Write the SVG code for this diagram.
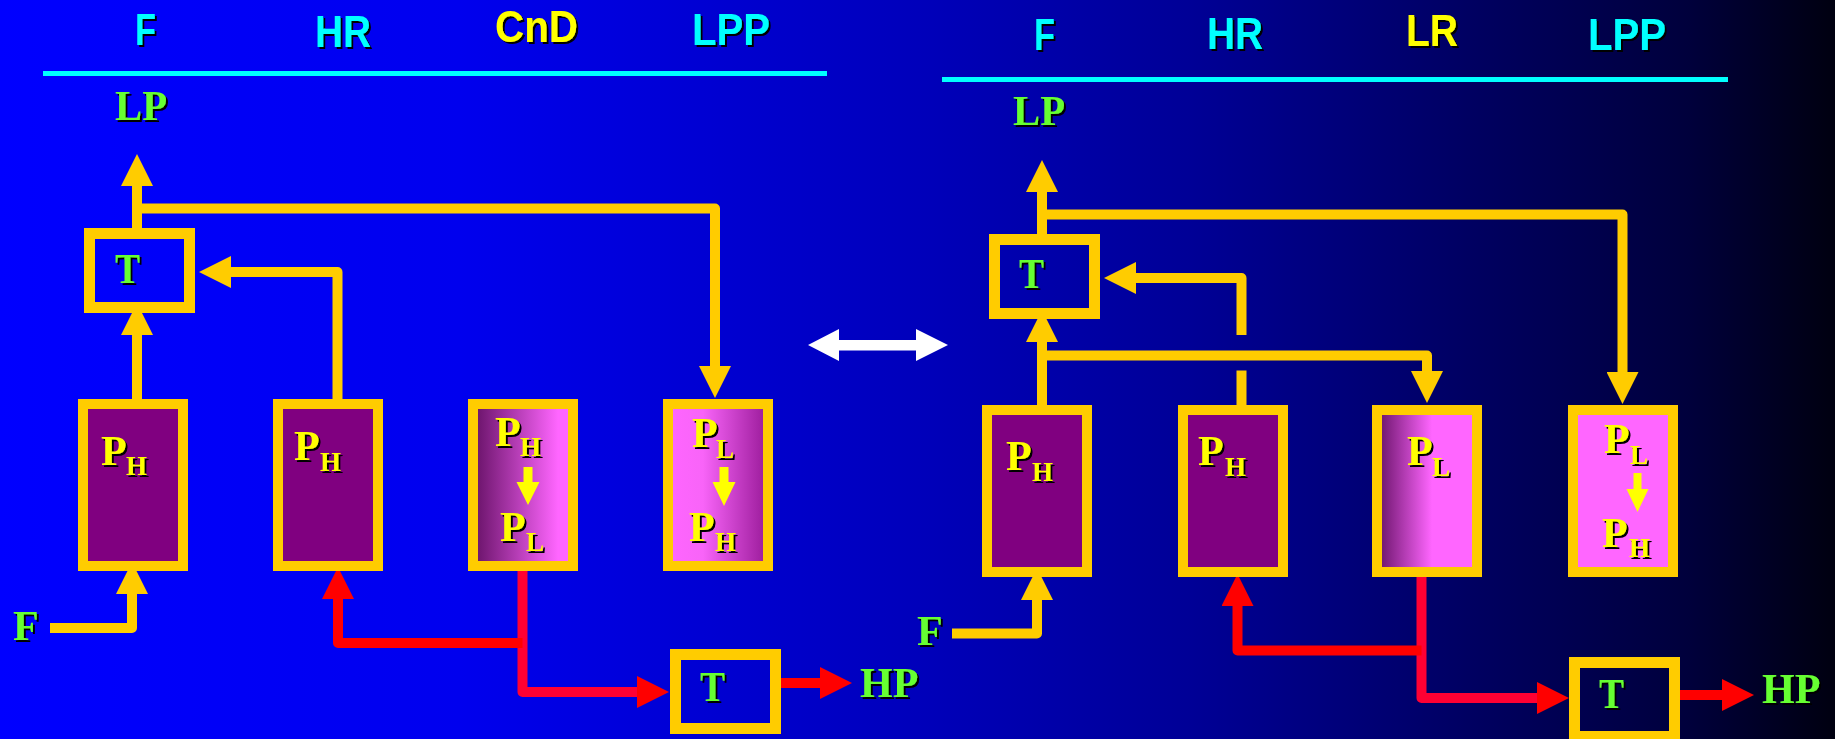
<svg xmlns="http://www.w3.org/2000/svg" width="1835" height="739" viewBox="0 0 1835 739">
<defs>
<linearGradient id="bg" x1="0" y1="0" x2="1" y2="0">
<stop offset="0" stop-color="#0000ff"/>
<stop offset="0.25" stop-color="#0000ee"/>
<stop offset="0.5" stop-color="#0000bb"/>
<stop offset="0.65" stop-color="#000096"/>
<stop offset="0.8" stop-color="#000062"/>
<stop offset="0.92" stop-color="#00003c"/>
<stop offset="1" stop-color="#000010"/>
</linearGradient>
<linearGradient id="gL3" x1="0" y1="0" x2="1" y2="0">
<stop offset="0" stop-color="#661166"/>
<stop offset="0.85" stop-color="#ff66ff"/>
</linearGradient>
<linearGradient id="gL4" x1="0" y1="0" x2="1" y2="0">
<stop offset="0" stop-color="#ff66ff"/>
<stop offset="0.35" stop-color="#f864f8"/>
<stop offset="1" stop-color="#991a99"/>
</linearGradient>
<linearGradient id="gR3" x1="0" y1="0" x2="1" y2="0">
<stop offset="0" stop-color="#661166"/>
<stop offset="0.55" stop-color="#ff66ff"/>
<stop offset="1" stop-color="#ff66ff"/>
</linearGradient>
<filter id="sh" x="-20%" y="-20%" width="150%" height="150%">
<feOffset in="SourceAlpha" dx="2" dy="2" result="o"/>
<feMerge><feMergeNode in="o"/><feMergeNode in="SourceGraphic"/></feMerge>
</filter>
<marker id="ay" markerUnits="userSpaceOnUse" viewBox="0 0 32 32" refX="0" refY="16" markerWidth="32" markerHeight="32" orient="auto">
<path d="M0,0 L32,16 L0,32 z" fill="#ffcc00"/>
</marker>
<marker id="ar" markerUnits="userSpaceOnUse" viewBox="0 0 32 32" refX="0" refY="16" markerWidth="32" markerHeight="32" orient="auto">
<path d="M0,0 L32,16 L0,32 z" fill="#ff0000"/>
</marker>
<style>
.hd{font-family:"Liberation Sans",Arial,sans-serif;font-weight:bold;font-size:44px;filter:url(#sh)}
.cy{fill:#00ffff}
.yl{fill:#ffff00}
.sr{font-family:"Liberation Serif","Times New Roman",serif;font-weight:bold;font-size:42px;filter:url(#sh)}
.gr{fill:#66ff33}
.sub{font-size:27px}
.yc{fill:none;stroke:#ffcc00;stroke-width:10;stroke-linejoin:round}
.rc{fill:none;stroke:#ff0000;stroke-width:10;stroke-linejoin:round}
.rc2{fill:none;stroke:#ff0033;stroke-width:10;stroke-linejoin:round}
.box{stroke:#ffcc00;stroke-width:10}
.tb{fill:none;stroke:#ffcc00;stroke-width:11}
.pu{fill:#800080}
.ia{fill:#ffff00}
.rule{stroke:#00ffff;stroke-width:5}
</style>
</defs>
<rect x="0" y="0" width="1835" height="739" fill="url(#bg)"/>

<g id="headers">
<text class="hd cy" x="135" y="45" textLength="21" lengthAdjust="spacingAndGlyphs">F</text>
<text class="hd cy" x="315" y="47" textLength="56" lengthAdjust="spacingAndGlyphs">HR</text>
<text class="hd yl" x="495" y="42" textLength="83" lengthAdjust="spacingAndGlyphs">CnD</text>
<text class="hd cy" x="692" y="45" textLength="78" lengthAdjust="spacingAndGlyphs">LPP</text>
<line class="rule" x1="43" y1="73.5" x2="827" y2="73.5"/>
<text class="hd cy" x="1034" y="50" textLength="21" lengthAdjust="spacingAndGlyphs">F</text>
<text class="hd cy" x="1207" y="49" textLength="56" lengthAdjust="spacingAndGlyphs">HR</text>
<text class="hd yl" x="1406" y="46" textLength="52" lengthAdjust="spacingAndGlyphs">LR</text>
<text class="hd cy" x="1588" y="50" textLength="78" lengthAdjust="spacingAndGlyphs">LPP</text>
<line class="rule" x1="942" y1="79.5" x2="1728" y2="79.5"/>
</g>

<g id="connectors">
<path class="yc" d="M137,228 V186" marker-end="url(#ay)"/>
<path class="yc" d="M137,208.5 H715 V366" marker-end="url(#ay)"/>
<path class="yc" d="M137,399 V335" marker-end="url(#ay)"/>
<path class="yc" d="M337.5,399 V272 H231" marker-end="url(#ay)"/>
<path class="yc" d="M50,628 H132 V594" marker-end="url(#ay)"/>
<path class="rc2" d="M522.5,571 V692 H637" marker-end="url(#ar)"/>
<path class="rc" d="M522.5,643 H338 V599" marker-end="url(#ar)"/>
<path class="rc" d="M781,683 H820" marker-end="url(#ar)"/>

<path class="yc" d="M1042,234 V192" marker-end="url(#ay)"/>
<path class="yc" d="M1042,214.5 H1622.5 V372" marker-end="url(#ay)"/>
<path class="yc" d="M1042,405 V342" marker-end="url(#ay)"/>
<path class="yc" d="M1042,355.5 H1427 V371" marker-end="url(#ay)"/>
<path class="yc" d="M1241.5,335 V278 H1136" marker-end="url(#ay)"/>
<path class="yc" d="M1241.5,370.5 V405"/>
<path class="yc" d="M952,633.5 H1037 V600" marker-end="url(#ay)"/>
<path class="rc2" d="M1421.5,577 V698 H1537" marker-end="url(#ar)"/>
<path class="rc" d="M1421.5,650.5 H1237.5 V606" marker-end="url(#ar)"/>
<path class="rc" d="M1679,695 H1722" marker-end="url(#ar)"/>

<polygon fill="#ffffff" points="808,345 839,329 839,340 916,340 916,329 948,345 916,361 916,350.5 839,350.5 839,361"/>
</g>

<g id="labels">
<text class="sr gr" x="115" y="120" textLength="52" lengthAdjust="spacingAndGlyphs">LP</text>
<text class="sr gr" x="1013" y="125" textLength="52" lengthAdjust="spacingAndGlyphs">LP</text>
<text class="sr gr" x="13" y="640">F</text>
<text class="sr gr" x="917" y="645">F</text>
<text class="sr gr" x="860" y="697">HP</text>
<text class="sr gr" x="1762" y="703">HP</text>
</g>

<g id="T-left-top">
<rect class="tb" x="89.5" y="233.5" width="100" height="74"/>
<text class="sr gr" x="115" y="283" textLength="25" lengthAdjust="spacingAndGlyphs">T</text>
</g>
<g id="T-left-bottom">
<rect class="tb" x="675.5" y="654.5" width="100" height="74"/>
<text class="sr gr" x="700" y="701" textLength="25" lengthAdjust="spacingAndGlyphs">T</text>
</g>
<g id="T-right-top">
<rect class="tb" x="994.5" y="239.5" width="100" height="74"/>
<text class="sr gr" x="1019" y="288" textLength="25" lengthAdjust="spacingAndGlyphs">T</text>
</g>
<g id="T-right-bottom">
<rect class="tb" x="1574.5" y="662.5" width="100" height="74"/>
<text class="sr gr" x="1599" y="708" textLength="25" lengthAdjust="spacingAndGlyphs">T</text>
</g>

<g id="L-F">
<rect class="box pu" x="83" y="404" width="100" height="162"/>
<text class="sr yl"><tspan x="101" y="465">P</tspan><tspan class="sub" x="126" y="475">H</tspan></text>
</g>
<g id="L-HR">
<rect class="box pu" x="278" y="404" width="100" height="162"/>
<text class="sr yl"><tspan x="294" y="460">P</tspan><tspan class="sub" x="320" y="471">H</tspan></text>
</g>
<g id="L-CnD">
<rect class="box" fill="url(#gL3)" x="473" y="404" width="100" height="162"/>
<text class="sr yl"><tspan x="495" y="446">P</tspan><tspan class="sub" x="520" y="456">H</tspan></text>
<polygon class="ia" points="523.5,467 532.5,467 532.5,482 539.5,482 528,505 516.5,482 523.5,482"/>
<text class="sr yl"><tspan x="500" y="541">P</tspan><tspan class="sub" x="526" y="551">L</tspan></text>
</g>
<g id="L-LPP">
<rect class="box" fill="url(#gL4)" x="668" y="404" width="100" height="162"/>
<text class="sr yl"><tspan x="692" y="447">P</tspan><tspan class="sub" x="716" y="458">L</tspan></text>
<polygon class="ia" points="719.5,467 728.5,467 728.5,482 735.5,482 724,506 712.5,482 719.5,482"/>
<text class="sr yl"><tspan x="689" y="541">P</tspan><tspan class="sub" x="715" y="551">H</tspan></text>
</g>

<g id="R-F">
<rect class="box pu" x="987" y="410" width="100" height="162"/>
<text class="sr yl"><tspan x="1006" y="470">P</tspan><tspan class="sub" x="1032" y="481">H</tspan></text>
</g>
<g id="R-HR">
<rect class="box pu" x="1183" y="410" width="100" height="162"/>
<text class="sr yl"><tspan x="1198" y="465">P</tspan><tspan class="sub" x="1225" y="476">H</tspan></text>
</g>
<g id="R-LR">
<rect class="box" fill="url(#gR3)" x="1377" y="410" width="100" height="162"/>
<text class="sr yl"><tspan x="1407" y="465">P</tspan><tspan class="sub" x="1432" y="476">L</tspan></text>
</g>
<g id="R-LPP">
<rect class="box" fill="#ff66ff" x="1573" y="410" width="100" height="162"/>
<text class="sr yl"><tspan x="1604" y="453">P</tspan><tspan class="sub" x="1630" y="464">L</tspan></text>
<polygon class="ia" points="1633.5,473 1641.5,473 1641.5,489 1648.5,489 1637.5,512 1626.5,489 1633.5,489"/>
<text class="sr yl"><tspan x="1602" y="547">P</tspan><tspan class="sub" x="1629" y="557">H</tspan></text>
</g>
</svg>
